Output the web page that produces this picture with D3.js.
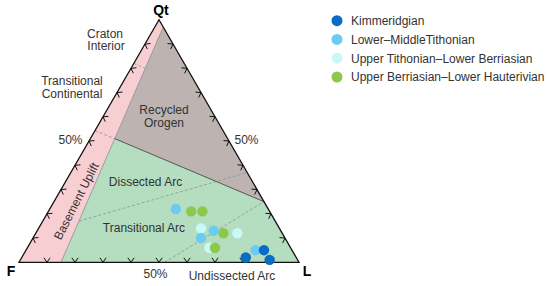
<!DOCTYPE html>
<html>
<head>
<meta charset="utf-8">
<script src="https://cdn.jsdelivr.net/npm/d3@7"></script>
<style>
  body { margin: 0; background: #fff; }
  svg text { font-family: "Liberation Sans", Arial, sans-serif; fill: #333; }
</style>
</head>
<body>
<div id="vis"></div>
<script>
// series names and colours, in legend order
const seriesNames = ["Kimmeridgian", "Lower–MiddleTithonian", "Upper Tithonian–Lower Berriasian", "Upper Berriasian–Lower Hauterivian"];
const seriesColors = ["#0b6cc4", "#6ccaf3", "#c8f8f8", "#8cc84b"];

// samples as [Qt, F, L] percentages
const kimmeridgian = [[2, 18, 80], [5, 10, 85], [1, 10, 89]];
const lowerMiddleTithonian = [[22, 33, 45], [13, 24, 63], [10, 30, 60], [5, 13, 82]];
const upperTithLowerBerr = [[14, 28, 58], [12, 16, 72], [6, 29, 65]];
const upperBerrLowerHaut = [[21, 28, 51], [21, 24, 55], [12, 21, 67], [6, 27, 67]];

// provenance field corners, [Qt, F, L]
const basementField = [[0, 100, 0], [0, 85, 15], [97, 0, 3], [100, 0, 0]];
const orogenField = [[97, 0, 3], [25, 0, 75], [51, 40.3, 8.7]];
const arcField = [[0, 85, 15], [0, 0, 100], [25, 0, 75], [51, 40.3, 8.7]];
const dashedBounds = [
  [[82, 18, 0], [80, 15, 5]],
  [[54.3, 45.7, 0], [51, 40.3, 8.7]],
  [[17, 70, 13], [37, 0, 63]],
  [[0, 48, 52], [25, 0, 75]]
];
const tickSteps = [10, 20, 30, 40, 50, 60, 70, 80, 90];

const width = 550, height = 286;
const svg = d3.select("#vis").append("svg").attr("width", width).attr("height", height);

const x = d3.scaleLinear().domain([0, 1]).range([19, 299]);
const y = d3.scaleLinear().domain([0, 1]).range([262.3, 19.8]);

function project(p){
  let s = p[0] + p[1] + p[2];
  let q = p[0] / s, l = p[2] / s;
  return [x(l + q / 2), y(q)];
}
const line = d3.line();

function drawField(pts, fill){
  svg.append("path").attr("d", line(pts.map(project)) + "Z").attr("fill", fill);
}
drawField(basementField, "#f7cfd2");
drawField(orogenField, "#bdb3b1");
drawField(arcField, "#b5ddbf");

dashedBounds.forEach(function(seg){
  svg.append("path").attr("d", line(seg.map(project)))
    .attr("stroke", "#8a8a8a").attr("stroke-width", 0.7)
    .attr("stroke-dasharray", "3,2").attr("fill", "none");
});

// solid field boundaries
svg.append("path").attr("d", line([[0, 85, 15], [97, 0, 3]].map(project)))
  .attr("stroke", "#8c8c8c").attr("stroke-width", 0.8).attr("fill", "none");
svg.append("path").attr("d", line([[25, 0, 75], [51, 40.3, 8.7]].map(project)))
  .attr("stroke", "#555").attr("stroke-width", 1).attr("fill", "none");

// outline
svg.append("path").attr("d", line([[100, 0, 0], [0, 100, 0], [0, 0, 100]].map(project)) + "Z")
  .attr("stroke", "#111").attr("stroke-width", 1.3).attr("fill", "none");

// chevron ticks, arms running into the triangle along grid directions
const armLen = 5.5;
function tick(p, a1, a2){
  let c = project(p);
  let r1 = a1 * Math.PI / 180, r2 = a2 * Math.PI / 180;
  return line([[c[0] + armLen * Math.cos(r1), c[1] - armLen * Math.sin(r1)], c,
               [c[0] + armLen * Math.cos(r2), c[1] - armLen * Math.sin(r2)]]);
}
const tickG = svg.append("g").attr("stroke", "#111").attr("stroke-width", 1).attr("fill", "none");
tickSteps.forEach(function(t){
  tickG.append("path").attr("d", tick([0, 100 - t, t], 55, 125));
  tickG.append("path").attr("d", tick([t, 0, 100 - t], 175, 245));
  tickG.append("path").attr("d", tick([t, 100 - t, 0], 5, 295));
});

// samples
const pointSets = [
  [upperTithLowerBerr, 2],
  [lowerMiddleTithonian, 1],
  [upperBerrLowerHaut, 3],
  [kimmeridgian, 0]
];
pointSets.forEach(function(ps){
  svg.append("g").selectAll("circle").data(ps[0]).enter().append("circle")
    .attr("cx", d => project(d)[0])
    .attr("cy", d => project(d)[1])
    .attr("r", 5.2)
    .attr("fill", seriesColors[ps[1]]);
});

// labels
function label(txt, px, py, opts){
  opts = opts || {};
  return svg.append("text").attr("x", px).attr("y", py)
    .attr("text-anchor", opts.anchor || "middle")
    .style("font-size", (opts.size || 12) + "px")
    .style("font-weight", opts.bold ? "bold" : "normal")
    .style("fill", opts.color || "#333")
    .text(txt);
}
label("Qt", 161, 15, {size: 14, bold: true, color: "#000"});
label("F", 11, 276, {size: 14, bold: true, color: "#000"});
label("L", 307, 276, {size: 14, bold: true, color: "#000"});
label("Craton", 105, 37.5);
label("Interior", 106, 50);
label("Transitional", 72, 84.5);
label("Continental", 72, 97.5);
label("Recycled", 164, 114);
label("Orogen", 164, 127);
label("50%", 70.5, 144);
label("50%", 246.5, 144);
label("50%", 155.5, 278);
label("Dissected Arc", 145.5, 186);
label("Transitional Arc", 144, 232);
label("Undissected Arc", 232, 280);
label("Basement Uplift", 0, 0).attr("transform", "translate(80,203) rotate(-63)");

// legend
const legendY = d3.scalePoint().domain(seriesNames).range([20.7, 77]);
const legend = svg.append("g").selectAll("g").data(seriesNames).enter().append("g")
  .attr("transform", d => "translate(337," + legendY(d) + ")");
legend.append("circle").attr("r", 5.5).attr("fill", (d, i) => seriesColors[i]);
legend.append("text").attr("x", 14).attr("y", 4.3).style("font-size", "12px").text(d => d);
</script>
</body>
</html>
